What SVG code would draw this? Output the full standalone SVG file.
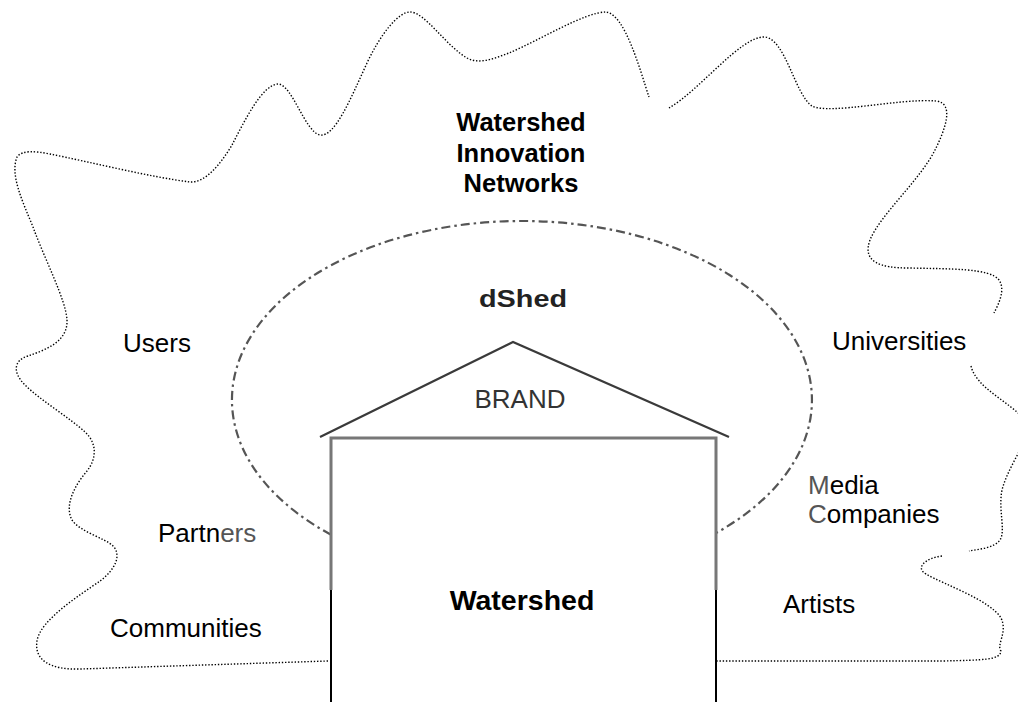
<svg xmlns="http://www.w3.org/2000/svg" width="1018" height="702" viewBox="0 0 1018 702">
  <style>
    .cloud { fill: none; stroke: #000; stroke-width: 1.4; stroke-dasharray: 1.4 1.8; stroke-linecap: butt; }
    .halo { fill: none; stroke: #555; stroke-width: 2.2; stroke-dasharray: 9 4 2.5 4; }
    .roof { fill: none; stroke: #3a3a3a; stroke-width: 2.2; }
    .wall-top { fill: none; stroke: #777; stroke-width: 3; }
    .wall-base { fill: none; stroke: #000; stroke-width: 2; }
    .lbl { font-family: "Liberation Sans", Arial, sans-serif; font-size: 26px; fill: #000; }
    .bold { font-weight: bold; }
    .soft { fill: #555; }
  </style>

  <rect width="1018" height="702" fill="#fff"/>

  <!-- network boundary: broken dotted cloud -->
  <g id="network-cloud">
    <path class="cloud" d="M328,661 L80,669
      C50,670 34,660 37,641
      C40,620 80,595 100,581
      C115,570 122,555 113,546
      C105,538 80,532 72,520
      C64,505 75,485 87,471
      C97,458 97,443 85,432
      C70,418 40,400 25,385
      C12,372 14,360 28,356
      C45,350 68,342 67,320
      C66,300 45,260 33,227
      C22,200 10,175 17,157
      C22,150 35,151 50,154
      C90,162 150,177 190,182
      C205,183 220,165 232,145
      C245,120 262,85 278,84
      C292,84 305,132 320,135
      C335,137 350,100 367,63
      C380,35 398,12 410,12
      C425,12 445,45 467,58
      C480,65 495,58 509,53
      C540,40 585,12 606,12
      C625,14 640,70 649,97"/>
    <path class="cloud" d="M669,108
      C700,90 740,37 764,37
      C785,37 795,95 812,106
      C830,115 900,98 936,101
      C955,103 945,130 935,150
      C920,180 880,215 870,240
      C862,262 880,268 909,268
      C950,269 990,268 999,280
      C1006,290 998,305 994,313"/>
    <path class="cloud" d="M971,366
      C976,388 1010,402 1025,420
      C1035,435 1010,460 1002,490
      C998,510 1006,530 1000,540
      C994,548 980,549 969,551"/>
    <path class="cloud" d="M942,556
      C925,558 915,568 926,574
      C945,585 990,600 1001,618
      C1008,632 996,645 1001,651
      C1000,660 985,660 942,661
      L716,661"/>
  </g>

  <!-- dShed halo around the house -->
  <g id="dshed-halo">
    <path class="halo" d="M331,534.7 A290,179 0 1 1 716,533"/>
  </g>

  <!-- the Watershed house -->
  <g id="watershed-house">
    <polyline class="roof" points="320,437 513,342 729,437"/>
    <polyline class="wall-top" points="331,590 331,438 716,438 716,590"/>
    <line class="wall-base" x1="331" y1="590" x2="331" y2="702"/>
    <line class="wall-base" x1="716" y1="590" x2="716" y2="702"/>
  </g>

  <g id="title">
    <text class="lbl bold" text-anchor="middle" x="521" y="131" style="font-size:25.5px">Watershed</text>
    <text class="lbl bold" text-anchor="middle" x="521" y="162" style="font-size:25.5px">Innovation</text>
    <text class="lbl bold" text-anchor="middle" x="521" y="192" style="font-size:25.5px">Networks</text>
  </g>

  <g id="dshed">
    <text class="lbl bold" text-anchor="middle" x="523" y="307" textLength="88" lengthAdjust="spacingAndGlyphs" style="font-size:24px;fill:#222">dShed</text>
  </g>

  <g id="brand">
    <text class="lbl" text-anchor="middle" x="520" y="408" style="fill:#333">BRAND</text>
  </g>

  <g id="watershed">
    <text class="lbl bold" text-anchor="middle" x="522" y="610" style="font-size:28.5px">Watershed</text>
  </g>

  <g id="users"><text class="lbl" x="123" y="352">Users</text></g>
  <g id="universities"><text class="lbl" x="832" y="350">Universities</text></g>
  <g id="partners"><text class="lbl" x="158" y="542">Partn<tspan class="soft">ers</tspan></text></g>
  <g id="communities"><text class="lbl" x="110" y="637">Communities</text></g>
  <g id="media-companies">
    <text class="lbl" x="808" y="494"><tspan class="soft">M</tspan>edia</text>
    <text class="lbl" x="808" y="523"><tspan class="soft">C</tspan>ompanies</text>
  </g>
  <g id="artists"><text class="lbl" x="783" y="613">Artists</text></g>
</svg>
